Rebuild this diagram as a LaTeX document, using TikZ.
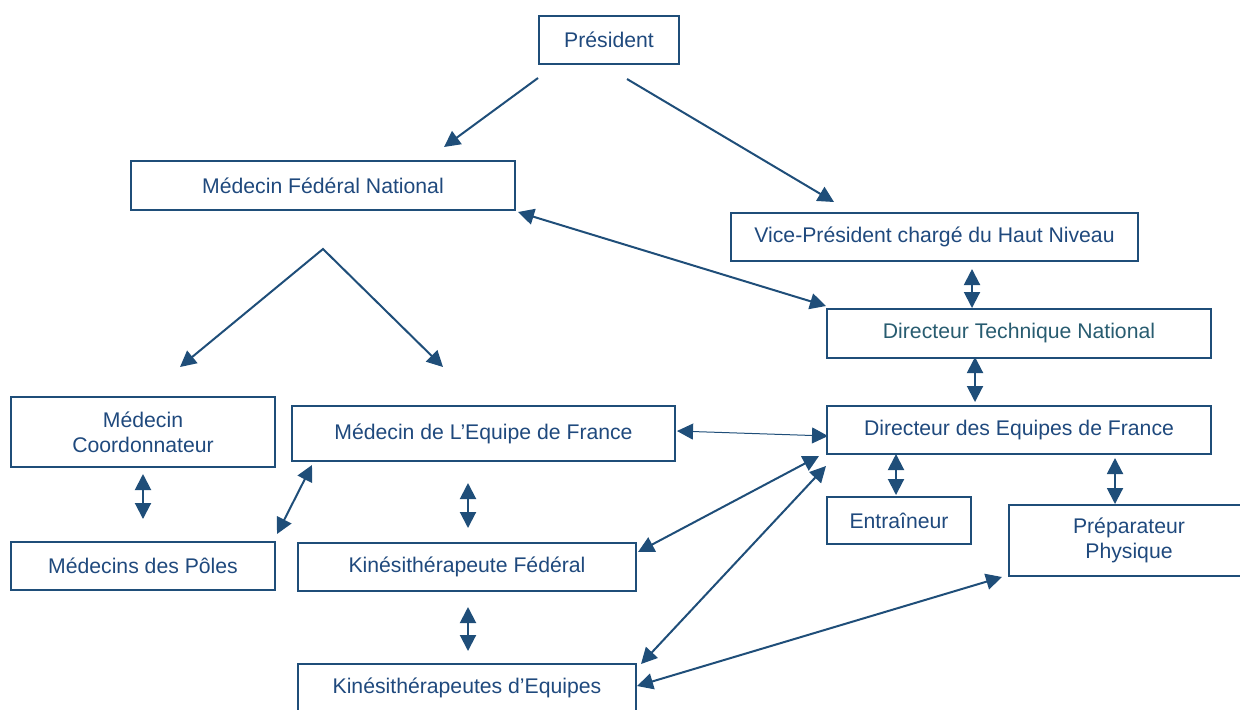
\documentclass[tikz,border=0pt]{standalone}
\usepackage{fontspec}
\setmainfont{Liberation Sans}
\usetikzlibrary{arrows.meta}
\definecolor{bleu}{RGB}{31,78,121}
\definecolor{bleutexte}{RGB}{31,73,125}
\definecolor{sarcelle}{RGB}{40,92,112}
\begin{document}
\begin{tikzpicture}[x=0.5pt,y=-0.5pt,
    box/.style={draw=bleu,line width=1pt,text=bleutexte,inner sep=0pt,align=center,
        font=\fontsize{10.6}{12.4}\selectfont},
    arr/.style={draw=bleu,line width=1pt,{Triangle[length=8pt,width=8pt]}-{Triangle[length=8pt,width=8pt]}},
    fleche/.style={draw=bleu,line width=1pt,-{Triangle[length=8pt,width=8pt]}}]
 \useasboundingbox (0,0) rectangle (1240,709);
 % boites
 \node[box,minimum width=70pt,minimum height=24pt] (pres) at (609,40) {Président};
 \node[box,minimum width=192pt,minimum height=24.5pt] (mfn) at (323,185.5) {Médecin Fédéral National};
 \node[box,minimum width=203.5pt,minimum height=24pt] (vp) at (934.5,237) {Vice-Président chargé du Haut Niveau};
 \node[box,minimum width=192pt,minimum height=24.5pt,text=sarcelle] (dtn) at (1019,333.5) {Directeur Technique National};
 \node[box,minimum width=132pt,minimum height=35pt] (mco) at (143,432) {Médecin\\Coordonnateur};
 \node[box,minimum width=191.5pt,minimum height=27.5pt] (mef) at (483.5,433.5) {Médecin de L’Equipe de France};
 \node[box,minimum width=192pt,minimum height=24pt] (def) at (1019,430) {Directeur des Equipes de France};
 \node[box,minimum width=72pt,minimum height=23.5pt] (ent) at (899,520.5) {Entraîneur};
 \node[box,minimum width=120pt,minimum height=35.5pt] (prep) at (1129,540.5) {Préparateur\\Physique};
 \node[box,minimum width=132pt,minimum height=24pt] (mdp) at (143,566) {Médecins des Pôles};
 \node[box,minimum width=169pt,minimum height=24pt] (kf) at (467,567) {Kinésithérapeute Fédéral};
 \node[box,minimum width=169pt,minimum height=24pt] (ke) at (467,688) {Kinésithérapeutes d’Equipes};
 \coordinate (split) at (323,249);
 % liaisons
 \draw[fleche] ([shift={(0,13)}]pres.south west) -- ([shift={(121,-13)}]mfn.north);
 \draw[fleche] ([shift={(18,14)}]pres.south) -- ([shift={(104,-10)}]vp.north west);
 \draw[arr] ([shift={(2,1)}]mfn.south east) -- ([shift={(0,-2)}]dtn.north west);
 \draw[arr] ([shift={(37.5,7)}]vp.south) -- ([shift={(-47,0)}]dtn.north);
 \draw[arr] ([shift={(-44,-2)}]dtn.south) -- ([shift={(-44,-3)}]def.north);
 \draw[arr] ([shift={(37,-29)}]mco.north) -- (split) -- ([shift={(-40.5,-38)}]mef.north);
 \draw[arr,line width=0.5pt] ([shift={(1,-2.5)}]mef.east) -- ([shift={(2,6)}]def.west);
 \draw[arr] ([shift={(0,6)}]mco.south) -- ([shift={(0,-22)}]mdp.north);
 \draw[arr] ([shift={(21,3)}]mef.south west) -- ([shift={(1,-7)}]mdp.north east);
 \draw[arr] ([shift={(-15.5,21)}]mef.south) -- ([shift={(1,-14)}]kf.north);
 \draw[arr] ([shift={(1,15)}]kf.south) -- ([shift={(1,-12)}]ke.north);
 \draw[arr] ([shift={(-7,1)}]def.south west) -- ([shift={(1,-15)}]kf.east);
 \draw[arr] ([shift={(0,11)}]def.south west) -- ([shift={(4,1)}]ke.north east);
 \draw[arr] ([shift={(-123,-1)}]def.south) -- ([shift={(-3,-1)}]ent.north);
 \draw[arr] ([shift={(96,3)}]def.south) -- ([shift={(-14,0)}]prep.north);
 \draw[arr] ([shift={(-6,0)}]prep.south west) -- ([shift={(0,-2)}]ke.east);
\end{tikzpicture}
\end{document}
